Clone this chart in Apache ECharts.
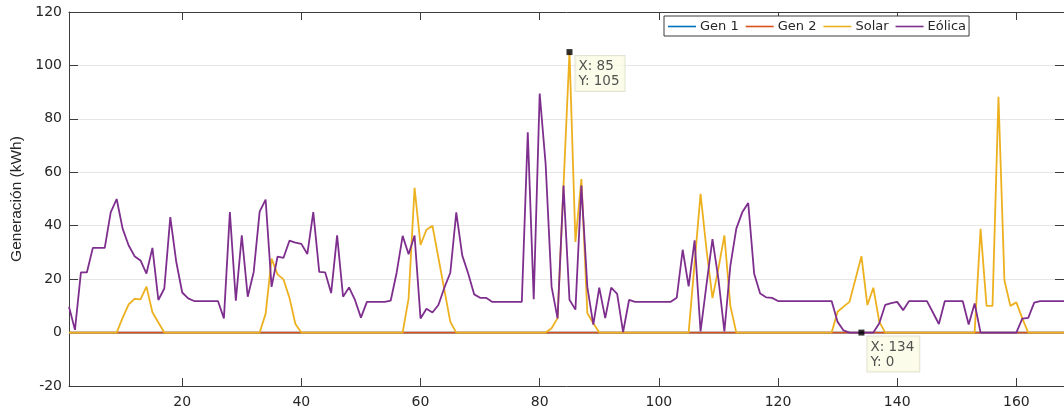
<!DOCTYPE html>
<html>
<head>
<meta charset="utf-8">
<script src="https://cdn.jsdelivr.net/npm/echarts@6/dist/echarts.min.js"></script>
<style>
html,body{margin:0;padding:0;background:#fff;}
#c{width:1064px;height:409px;}
</style>
</head>
<body>
<div id="c"></div>
<script>
// Hour index starts at 1
const startHour = 1;
const seriesNames = ['Gen 1', 'Gen 2', 'Solar', 'Eólica'];
const xTicks = [20, 40, 60, 80, 100, 120, 140, 160];

const gen1 = [
0,0,0,0,0,0,0,0,0,0,0,0,0,0,0,0,0,0,0,0,0,0,0,0,0,0,0,0,0,0,0,0,0,0,0,0,0,0,0,0,0,0,
0,0,0,0,0,0,0,0,0,0,0,0,0,0,0,0,0,0,0,0,0,0,0,0,0,0,0,0,0,0,0,0,0,0,0,0,0,0,0,0,0,0,
0,0,0,0,0,0,0,0,0,0,0,0,0,0,0,0,0,0,0,0,0,0,0,0,0,0,0,0,0,0,0,0,0,0,0,0,0,0,0,0,0,0,
0,0,0,0,0,0,0,0,0,0,0,0,0,0,0,0,0,0,0,0,0,0,0,0,0,0,0,0,0,0,0,0,0,0,0,0,0,0,0,0,0,0];
const gen2 = [
0,0,0,0,0,0,0,0,0,0,0,0,0,0,0,0,0,0,0,0,0,0,0,0,0,0,0,0,0,0,0,0,0,0,0,0,0,0,0,0,0,0,
0,0,0,0,0,0,0,0,0,0,0,0,0,0,0,0,0,0,0,0,0,0,0,0,0,0,0,0,0,0,0,0,0,0,0,0,0,0,0,0,0,0,
0,0,0,0,0,0,0,0,0,0,0,0,0,0,0,0,0,0,0,0,0,0,0,0,0,0,0,0,0,0,0,0,0,0,0,0,0,0,0,0,0,0,
0,0,0,0,0,0,0,0,0,0,0,0,0,0,0,0,0,0,0,0,0,0,0,0,0,0,0,0,0,0,0,0,0,0,0,0,0,0,0,0,0,0];
const solar = [
// 1-10
0,0,0,0,0,0,0,0,0,5.5,
// 11-20
10.5,12.6,12.4,17.2,7.6,3.8,0,0,0,0,
// 21-30
0,0,0,0,0,0,0,0,0,0,
// 31-40
0,0,0,7,27.7,21.8,19.9,13,3.2,0,
// 41-50
0,0,0,0,0,0,0,0,0,0,
// 51-60
0,0,0,0,0,0,0,12.8,54.2,32.8,
// 61-70
38.5,40,28,16,4,0,0,0,0,0,
// 71-80
0,0,0,0,0,0,0,0,0,0,
// 81-90
0,1.6,5.4,55,105,33.9,57.5,7.2,3.5,0,
// 91-100
0,0,0,0,0,0,0,0,0,0,
// 101-110
0,0,0,0,0,26,51.9,31,12.9,24,
// 111-120
36.4,10,0,0,0,0,0,0,0,0,
// 121-130
0,0,0,0,0,0,0,0,0,7.8,
// 131-140
9.7,11.5,20,28.6,10.3,16.8,4,0,0,0,
// 141-150
0,0,0,0,0,0,0,0,0,0,
// 151-160
0,0,0,38.8,10,10,88.3,19.6,10,11.3,
// 161-168
5.3,0,0,0,0,0,0,0];
const eolica = [
// 1-10
9.7,1,22.5,22.5,31.7,31.7,31.7,45,50,38.9,
// 11-20
32.7,28.6,27,22.1,31.7,12.2,16.5,43.2,26.5,15,
// 21-30
12.8,11.8,11.8,11.8,11.8,11.8,5.3,45.1,11.9,36.4,
// 31-40
13.4,22.7,45.3,49.8,17.1,28.4,28,34.4,33.7,33.2,
// 41-50
29.4,45.1,22.7,22.5,14.8,36.4,13.4,16.9,12.2,5.6,
// 51-60
11.5,11.5,11.5,11.5,12,22.5,36.2,29.3,36.3,5.3,
// 61-70
8.9,7.5,10.3,16.8,22.4,45,28.9,22.1,14.3,13,
// 71-80
13,11.5,11.5,11.5,11.5,11.5,11.5,75,12.5,89.5,
// 81-90
63,17.1,5.3,55,12.3,8.6,55,17,3,16.8,
// 91-100
5.4,16.8,14.5,0.2,12.2,11.5,11.5,11.5,11.5,11.5,
// 101-110
11.5,11.5,13,31,17.3,34.5,0.4,18,35,20,
// 111-120
0.4,25,38.9,45,48.5,22,14.6,13.2,13,11.8,
// 121-130
11.8,11.8,11.8,11.8,11.8,11.8,11.8,11.8,11.8,4,
// 131-140
0.8,0,0,0,0,0,3.5,10.4,11,11.5,
// 141-150
8.4,11.8,11.8,11.8,11.8,7.5,3.2,11.8,11.8,11.8,
// 151-160
11.8,3,10.9,0,0,0,0,0,0,0,
// 161-168
5.2,5.5,11.2,11.8,11.8,11.8,11.8,11.8];

// Data tips shown on the chart
const tipX = [85, 134];
const tipY = [105, 0];

const colors = ['#0072BD', '#D95319', '#EDB120', '#7E2F8E'];

function toPairs(arr) { return arr.map((v, i) => [i + startHour, v]); }

const chart = echarts.init(document.getElementById('c'), null, {renderer: 'canvas'});

const axisColor = '#3c3c3c';
const textColor = '#262626';
const tickFont = 'DejaVu Sans';

const lineSeries = [gen1, gen2, solar, eolica].map((arr, i) => ({
  name: seriesNames[i],
  type: 'line',
  data: toPairs(arr),
  symbol: 'none',
  showSymbol: false,
  lineStyle: {width: 1.8, color: colors[i]},
  itemStyle: {color: colors[i]},
  z: 2 + i,
  animation: false
}));

const option = {
  backgroundColor: '#ffffff',
  animation: false,
  grid: {left: 69, top: 12, height: 375, right: -8, containLabel: false},
  legend: {
    data: seriesNames.map(n => ({name: n, icon: 'rect'})),
    left: 664, top: 16,
    orient: 'horizontal',
    itemWidth: 28, itemHeight: 1.6, itemGap: 7,
    padding: [4, 3, 3, 4],
    borderColor: '#3a3a3a', borderWidth: 1,
    backgroundColor: '#ffffff',
    textStyle: {fontFamily: tickFont, fontSize: 13, color: textColor, padding: [0, 0, 0, -1]},
    z: 20
  },
  xAxis: [{
    type: 'value', min: 1, max: 168, position: 'bottom',
    axisLine: {show: true, onZero: false, lineStyle: {color: axisColor, width: 1}},
    axisTick: {show: true, inside: true, length: 8, customValues: xTicks, lineStyle: {color: axisColor}},
    axisLabel: {show: true, customValues: xTicks, margin: 9, fontFamily: tickFont, fontSize: 14, color: textColor},
    splitLine: {show: false}
  }, {
    type: 'value', min: 1, max: 168, position: 'top',
    axisLine: {show: true, onZero: false, lineStyle: {color: axisColor, width: 1}},
    axisTick: {show: true, inside: true, length: 8, customValues: xTicks, lineStyle: {color: axisColor}},
    axisLabel: {show: false},
    splitLine: {show: false}
  }],
  yAxis: [{
    type: 'value', min: -20, max: 120, interval: 20, position: 'left',
    name: 'Generación (kWh)', nameLocation: 'middle', nameGap: 43, nameRotate: 90,
    nameTextStyle: {fontFamily: 'Liberation Sans', fontSize: 15.5, color: textColor},
    axisLine: {show: true, onZero: false, lineStyle: {color: axisColor, width: 1}},
    axisTick: {show: true, inside: true, length: 9, lineStyle: {color: axisColor}},
    axisLabel: {margin: 7, fontFamily: tickFont, fontSize: 14, color: textColor},
    splitLine: {show: true, lineStyle: {color: '#e6e6e6', width: 1}}
  }, {
    type: 'value', min: -20, max: 120, interval: 20, position: 'right',
    axisLine: {show: true, onZero: false, lineStyle: {color: axisColor, width: 1}},
    axisTick: {show: true, inside: true, length: 9, lineStyle: {color: axisColor}},
    axisLabel: {show: false},
    splitLine: {show: false}
  }],
  series: lineSeries.concat([{
    name: 'tips',
    type: 'scatter',
    data: tipX.map((x, i) => [x, tipY[i]]),
    symbol: 'rect', symbolSize: 6,
    itemStyle: {color: '#000'},
    z: 10,
    label: {
      show: true,
      position: [9, 7],
      align: 'left', verticalAlign: 'top',
      formatter: p => 'X: ' + p.value[0] + '\nY: ' + p.value[1],
      fontFamily: tickFont, fontSize: 13.5, lineHeight: 15, color: textColor,
      backgroundColor: '#fbfbe6',
      borderColor: '#dcdcc8', borderWidth: 1,
      padding: [3, 5, 2, 3]
    },
    emphasis: {disabled: true},
    animation: false
  }])
};

chart.setOption(option);
</script>
</body>
</html>
